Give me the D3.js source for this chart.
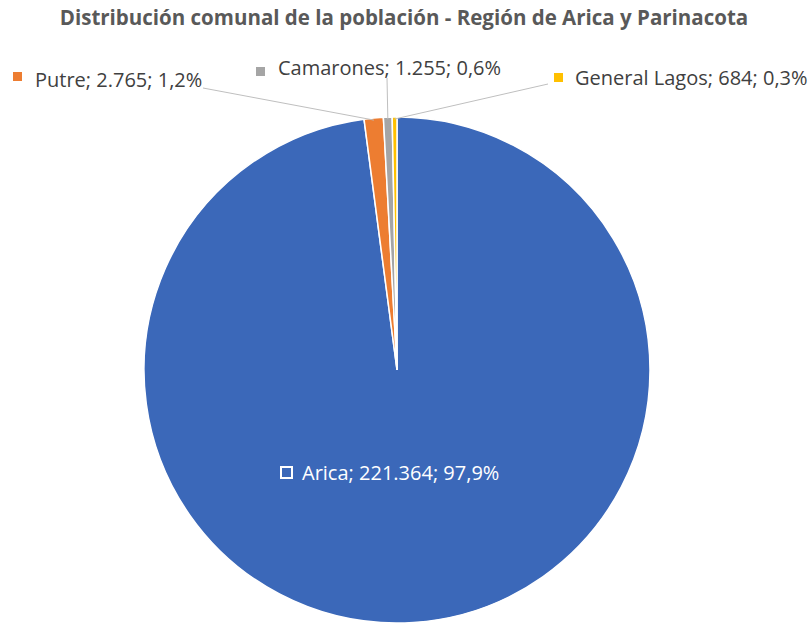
<!DOCTYPE html>
<html>
<head>
<meta charset="utf-8">
<script src="https://cdn.jsdelivr.net/npm/d3@7"></script>
<style>
  body { margin: 0; background: #fff; }
  svg { display: block; font-family: 'Open Sans', sans-serif; }
</style>
</head>
<body>
<div id="chart"></div>
<script>
const comunas = ['Arica', 'Putre', 'Camarones', 'General Lagos']
const poblacion = [221364, 2765, 1255, 684]
const colores = ['#3b68b9', '#ed7d31', '#a5a5a5', '#ffc000']

const width = 809
const height = 624
const cx = 397
const cy = 370
const radius = 253

const svg = d3.select('#chart').append('svg')
  .attr('width', width)
  .attr('height', height)

svg.append('text')
  .attr('x', 404)
  .attr('y', 25)
  .attr('text-anchor', 'middle')
  .attr('font-size', 20.5)
  .attr('font-weight', 'bold')
  .attr('fill', '#595959')
  .text('Distribución comunal de la población - Región de Arica y Parinacota')

const data = comunas.map((c, i) => ({ name: c, value: poblacion[i], color: colores[i] }))
const total = d3.sum(poblacion)

const pie = d3.pie().sort(null).value(d => d.value)
const arc = d3.arc().innerRadius(0).outerRadius(radius)
const arcs = pie(data)

const g = svg.append('g').attr('transform', `translate(${cx},${cy})`)

g.selectAll('path')
  .data(arcs)
  .enter()
  .append('path')
  .attr('d', arc)
  .attr('fill', d => d.data.color)
  .attr('stroke', '#fff')
  .attr('stroke-width', 1.5)

const fmtNum = d3.formatLocale({ decimal: ',', thousands: '.', grouping: [3] })
const labelText = d => `${d.data.name}; ${fmtNum.format(',')(d.data.value)}; ${fmtNum.format('.1f')(d.data.value / total * 100)}%`

// outside labels: square corner, text baseline, leader line start
const outside = {
  'Putre': { sx: 13, sy: 72, tx: 35, ty: 87, lx: 203, ly: 88 },
  'Camarones': { sx: 256, sy: 67, tx: 278, ty: 75, lx: 387, ly: 78 },
  'General Lagos': { sx: 554, sy: 73, tx: 575, ty: 85, lx: 548, ly: 84 }
}

arcs.forEach(d => {
  const o = outside[d.data.name]
  if (!o) return
  const mid = (d.startAngle + d.endAngle) / 2
  const ex = cx + Math.sin(mid) * (radius - 2)
  const ey = cy - Math.cos(mid) * (radius - 2)
  svg.append('line')
    .attr('x1', o.lx).attr('y1', o.ly)
    .attr('x2', ex).attr('y2', ey)
    .attr('stroke', '#bfbfbf')
    .attr('stroke-width', 1)
  svg.append('rect')
    .attr('x', o.sx).attr('y', o.sy)
    .attr('width', 9).attr('height', 9)
    .attr('fill', d.data.color)
  svg.append('text')
    .attr('x', o.tx).attr('y', o.ty)
    .attr('font-size', 20)
    .attr('fill', '#404040')
    .text(labelText(d))
})

// inside label for Arica
const arica = arcs[0]
svg.append('rect')
  .attr('x', 281).attr('y', 467)
  .attr('width', 11).attr('height', 11)
  .attr('fill', 'none')
  .attr('stroke', '#fff')
  .attr('stroke-width', 2)
svg.append('text')
  .attr('x', 302).attr('y', 480)
  .attr('font-size', 20)
  .attr('fill', '#fff')
  .text(labelText(arica))
</script>
</body>
</html>
